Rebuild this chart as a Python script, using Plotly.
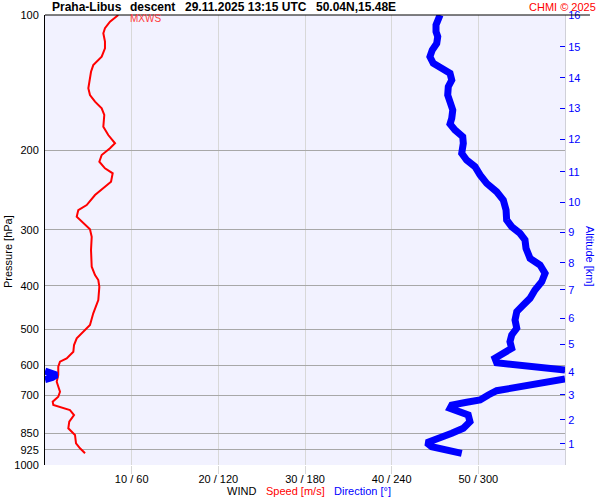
import plotly.graph_objects as go

# wind speed profile (m/s) vs pressure (hPa)
speed_p = [100.0, 103.5, 107.0, 109.8, 114.6, 118.6, 123.8, 129.2, 133.7, 139.5,
           145.5, 150.6, 155.8, 161.2, 166.8, 177.1, 184.8, 192.8, 197.8, 204.7,
           211.8, 219.1, 224.8, 234.6, 244.0, 251.2, 264.4, 271.3, 280.7, 288.0,
           299.4, 311.0, 332.8, 362.5, 378.3, 388.1, 401.6, 430.0, 460.2, 488.6,
           505.6, 522.9, 541.2, 560.1, 579.4, 589.5, 604.8, 631.0, 653.0, 687.3,
           705.1, 723.4, 735.8, 748.2, 754.7, 774.3, 801.3, 828.7, 857.7, 894.9,
           918.1, 941.9]
speed = [8.46, 7.50, 6.92, 6.73, 6.92, 6.92, 6.54, 5.57, 5.31, 5.19,
         5.00, 5.19, 5.77, 6.54, 6.84, 6.73, 7.30, 8.08, 7.50, 6.54,
         6.27, 6.92, 7.81, 7.62, 6.54, 5.77, 4.81, 3.84, 3.66, 4.23,
         5.19, 5.39, 5.31, 5.39, 5.77, 6.15, 6.27, 6.15, 5.57, 5.19,
         4.42, 3.66, 3.35, 3.27, 2.50, 1.73, 1.53, 1.53, 1.35, 1.73,
         1.53, 0.89, 0.96, 2.11, 2.88, 3.35, 2.80, 2.69, 3.46, 3.58,
         4.04, 4.62]

# wind direction profile (deg) vs pressure (hPa); None marks the 360/0 wrap
dir_p = [100.0, 101.7, 105.2, 108.9, 111.7, 115.6, 119.6, 123.8, 128.0, 131.3,
         134.8, 139.5, 144.3, 150.6, 157.1, 162.6, 169.6, 174.7, 180.1, 186.4,
         192.8, 202.9, 210.0, 217.3, 226.7, 236.6, 247.0, 257.7, 271.3, 285.4,
         295.4, 305.6, 316.2, 329.9, 347.3, 359.4, 375.0, 391.5, 408.4, 426.3,
         441.1, 456.3, 476.1, 496.8, 514.2, 532.1, 550.4, 564.6, 579.4, 592.6,
         599.5, 606.6, 615.0, None,
         618.2, 624.5, 631.0, 639.1, 645.7, None,
         644.0, 656.3, 669.9, 683.8, 698.9, 717.1, 725.5, 735.8, 748.2, 761.4,
         774.3, 801.3, 828.7, 850.4, 872.4, 892.1, 910.6, 926.2, 941.9]
direction = [273.5, 272.3, 270.7, 270.7, 271.9, 271.2, 268.1, 266.5, 268.8, 274.6,
             280.4, 281.6, 279.2, 278.8, 280.9, 282.3, 281.6, 280.4, 283.8, 289.2,
             289.6, 288.5, 291.9, 297.7, 301.2, 305.8, 312.7, 317.3, 319.2, 319.6,
             323.1, 328.8, 332.3, 333.0, 335.8, 342.7, 346.2, 343.9, 339.2, 335.8,
             331.1, 326.6, 325.4, 326.6, 323.1, 321.9, 323.1, 317.3, 311.5, 312.7,
             326.6, 342.7, 360.0, None,
             0.0, 5.0, 8.0, 5.0, 0.0, None,
             360.0, 342.7, 326.6, 312.7, 306.9, 301.2, 291.9, 281.6, 280.4, 286.1,
             293.0, 294.2, 289.6, 281.6, 271.2, 264.2, 267.7, 278.1, 288.5]

pressure_ticks = [100, 200, 300, 400, 500, 600, 700, 850, 925, 1000]
altitude_km = list(range(1, 17))
altitude_p = [898.0, 794.3, 698.9, 620.3, 539.2, 472.1, 408.4, 355.1,
              304.0, 260.8, 222.9, 188.9, 161.2, 137.8, 117.6, 100.0]
speed_ticks = [10, 20, 30, 40, 50]
dir_ticks = [60, 120, 180, 240, 300]

FONT = "Arial, Liberation Sans, sans-serif"

fig = go.Figure()
fig.add_trace(go.Scatter(x=direction, y=dir_p, xaxis="x2", yaxis="y2",
                         mode="lines", line=dict(color="#0000ff", width=7),
                         connectgaps=False, hoverinfo="skip"))
fig.add_trace(go.Scatter(x=speed, y=speed_p, mode="lines",
                         line=dict(color="#ff0000", width=2), hoverinfo="skip"))

fig.update_layout(
    width=600, height=500, autosize=False,
    margin=dict(l=45, r=35, t=15, b=35, autoexpand=False),
    paper_bgcolor="white", plot_bgcolor="#f2f2ff",
    showlegend=False,
    font=dict(family=FONT, size=11, color="black"),
    xaxis=dict(range=[0, 60], tickvals=speed_ticks,
               ticktext=[f"{s} / {d}" for s, d in zip(speed_ticks, dir_ticks)],
               showgrid=True, gridcolor="#d8d8d8", zeroline=False,
               ticks="outside", ticklen=8, tickcolor="#d8d8d8",
               ticklabelstandoff=-4,
               tickfont=dict(size=11, color="black"), showline=False),
    xaxis2=dict(range=[0, 360], overlaying="x", visible=False),
    yaxis=dict(type="log", range=[3, 2], tickvals=pressure_ticks,
               ticktext=[str(p) for p in pressure_ticks],
               showgrid=True, gridcolor="#a8a8a8", zeroline=False,
               showline=True, linecolor="black", linewidth=1,
               ticks="", ticklabelstandoff=3,
               tickfont=dict(size=11, color="black")),
    yaxis2=dict(type="log", range=[3, 2], overlaying="y", side="right",
                tickvals=altitude_p, ticktext=[str(a) for a in altitude_km],
                showgrid=False, zeroline=False,
                showline=True, linecolor="#d0d0d8", linewidth=1,
                ticks="inside", ticklen=5, tickcolor="#0000ff",
                tickfont=dict(size=11, color="#0000ff")),
)

# top border line
fig.add_shape(type="line", xref="paper", yref="paper", x0=0, x1=1.048, y0=1, y1=1,
              line=dict(color="black", width=1))

title_parts = [("Praha-Libus", 50), ("descent", 128),
               ("29.11.2025 13:15 UTC", 183), ("50.04N,15.48E", 314)]
for txt, px in title_parts:
    fig.add_annotation(text=f"<b>{txt}</b>", xref="paper", yref="paper",
                       x=(px - 45) / 520, y=1 + 8 / 450, xanchor="left",
                       yanchor="middle", showarrow=False,
                       font=dict(size=12, color="black"))

fig.add_annotation(text="CHMI © 2025", xref="paper", yref="paper",
                   x=(598 - 45) / 520, y=1 + 8 / 450, xanchor="right",
                   yanchor="middle", showarrow=False,
                   font=dict(size=11, color="#ff0000"))
fig.add_annotation(text="MXWS", xref="paper", yref="paper",
                   x=(128 - 45) / 520, y=1 - 3 / 450, xanchor="left",
                   yanchor="middle", showarrow=False,
                   font=dict(size=10, color="#ff4040"))

fig.add_annotation(text="Pressure [hPa]", xref="paper", yref="paper",
                   x=-37 / 520, y=(465 - 252) / 450, textangle=-90,
                   xanchor="center", yanchor="middle", showarrow=False,
                   font=dict(size=11, color="black"))
fig.add_annotation(text="Altitude [km]", xref="paper", yref="paper",
                   x=(590 - 45) / 520, y=(465 - 256) / 450, textangle=90,
                   xanchor="center", yanchor="middle", showarrow=False,
                   font=dict(size=11, color="#0000ff"))

bottom_parts = [("WIND", 225, "black"), ("Speed [m/s]", 264, "#ff0000"),
                ("Direction [°]", 332, "#0000ff")]
for txt, px, col in bottom_parts:
    fig.add_annotation(text=txt, xref="paper", yref="paper",
                       x=(px - 45) / 520, y=-(491 - 465) / 450,
                       xanchor="left", yanchor="middle", showarrow=False,
                       font=dict(size=11, color=col))

fig.write_html("out.html", config={"displayModeBar": False},
               post_script="document.body.style.margin='0';")
